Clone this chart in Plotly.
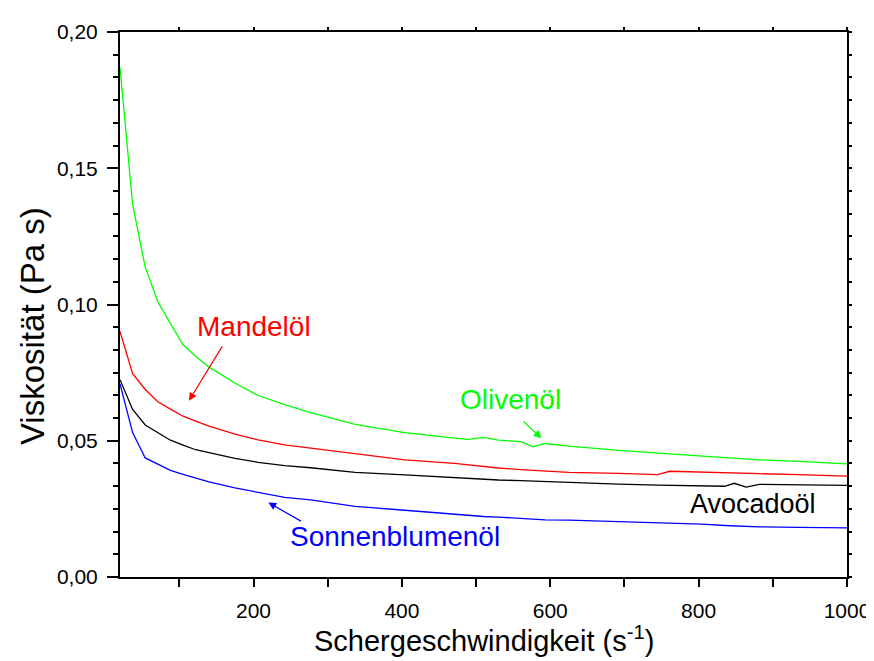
import plotly.graph_objects as go

# Shear rate (s^-1)
shear = [20, 37, 54, 71, 88, 105, 122, 140, 175, 206, 242, 277, 337, 404, 471, 490,
         510, 530, 560, 577, 593, 625, 692, 745, 761, 804, 835, 848, 864, 882, 935, 1000]

olivenoel = [0.1870, 0.1368, 0.1137, 0.1010, 0.0930, 0.0852, 0.0810, 0.0770, 0.0712, 0.0666,
             0.0633, 0.0603, 0.0560, 0.0530, 0.0510, 0.0505, 0.0512, 0.0502, 0.0497, 0.0478,
             0.0490, 0.0480, 0.0465, 0.0454, 0.0451, 0.0444, 0.0438, 0.0436, 0.0433, 0.0430,
             0.0424, 0.0415]

mandeloel = [0.0901, 0.0746, 0.0688, 0.0643, 0.0616, 0.0590, 0.0572, 0.0554, 0.0524, 0.0503,
             0.0485, 0.0473, 0.0451, 0.0430, 0.0417, 0.0411, 0.0405, 0.0400, 0.0394, 0.0391,
             0.0389, 0.0384, 0.0380, 0.0376, 0.0388, 0.0384, 0.0382, 0.0381, 0.0380, 0.0379,
             0.0376, 0.0370]

avocadooel = [0.0724, 0.0615, 0.0558, 0.0530, 0.0502, 0.0484, 0.0467, 0.0456, 0.0435, 0.0421,
              0.0409, 0.0401, 0.0384, 0.0375, 0.0364, 0.0361, 0.0358, 0.0356, 0.0354, 0.0352,
              0.0350, 0.0347, 0.0341, 0.0337, 0.0336, 0.0333, 0.0333, 0.0344, 0.0330, 0.0340,
              0.0338, 0.0336]

sonnenblumenoel = [0.0709, 0.0530, 0.0437, 0.0414, 0.0391, 0.0377, 0.0363, 0.0349, 0.0327, 0.0310,
                   0.0292, 0.0283, 0.0259, 0.0245, 0.0230, 0.0226, 0.0222, 0.0220, 0.0216, 0.0213,
                   0.0210, 0.0209, 0.0204, 0.0199, 0.0197, 0.0194, 0.0189, 0.0187, 0.0185, 0.0184,
                   0.0182, 0.0180]

x_ticks = [200, 400, 600, 800, 1000]
y_ticks = [0.00, 0.05, 0.10, 0.15, 0.20]

FONT = "Arial, 'Liberation Sans', sans-serif"

fig = go.Figure()
series = [("Olivenöl", olivenoel, "#00FF00"),
          ("Mandelöl", mandeloel, "#FF0000"),
          ("Avocadoöl", avocadooel, "#000000"),
          ("Sonnenblumenöl", sonnenblumenoel, "#0000FF")]
for name, ys, col in series:
    fig.add_trace(go.Scatter(x=shear, y=ys, mode="lines", name=name,
                             line=dict(color=col, width=1.3), showlegend=False))

# dummy trace for the mirrored top/right axes
fig.add_trace(go.Scatter(x=[shear[0]], y=[0], xaxis="x2", yaxis="y2", mode="markers",
                         marker=dict(opacity=0), showlegend=False, hoverinfo="skip"))

# curve labels
labels = [("Mandelöl", 200, 0.0920, "#FF0000", 28),
          ("Olivenöl", 547, 0.0650, "#00FF00", 28),
          ("Avocadoöl", 873, 0.0268, "#000000", 27),
          ("Sonnenblumenöl", 391, 0.0147, "#0000FF", 28)]
for txt, lx, ly, col, fs in labels:
    fig.add_annotation(x=lx, y=ly, text=txt, showarrow=False,
                       font=dict(family=FONT, size=fs, color=col))

# arrows (tail -> tip)
arrows = [(159, 0.0852, 113, 0.0647, "#FF0000"),
          (562, 0.0576, 588, 0.0509, "#00FF00"),
          (266, 0.0202, 220, 0.0273, "#0000FF")]
for tx, ty, hx, hy, col in arrows:
    fig.add_annotation(x=hx, y=hy, ax=tx, ay=ty, xref="x", yref="y", axref="x", ayref="y",
                       text="", showarrow=True, arrowhead=2, arrowsize=1.3,
                       arrowwidth=1.2, arrowcolor=col)

# axis titles
fig.add_annotation(xref="paper", yref="paper", x=0.5, y=-0.151, xanchor="center", yanchor="bottom",
                   text="Schergeschwindigkeit (s<sup>-1</sup>)", showarrow=False,
                   font=dict(family=FONT, size=29, color="black"))
fig.add_annotation(xref="paper", yref="paper", x=-0.12, y=0.46, xanchor="center", yanchor="middle",
                   text="Viskosität (Pa s)", textangle=-90, showarrow=False,
                   font=dict(family=FONT, size=33, color="black"))

fig.update_layout(
    width=874, height=661,
    margin=dict(l=112, r=27, t=22, b=92),
    paper_bgcolor="white", plot_bgcolor="white",
    separators=",.",
    font=dict(family=FONT, color="black"),
    xaxis=dict(range=[20, 1000], tickvals=x_ticks, ticktext=[str(v) for v in x_ticks],
               ticks="outside", ticklen=8, tickwidth=2, tickcolor="black",
               showline=True, linewidth=2, linecolor="black", showgrid=False, zeroline=False,
               tickfont=dict(size=21, family=FONT), ticklabelstandoff=6,
               minor=dict(tickvals=[100, 300, 500, 700, 900], ticks="outside", ticklen=8,
                          tickwidth=2, tickcolor="black", showgrid=False)),
    yaxis=dict(range=[0, 0.2], tickvals=y_ticks, tickformat=".2f",
               ticks="outside", ticklen=11, tickwidth=2, tickcolor="black",
               showline=True, linewidth=2, linecolor="black", showgrid=False, zeroline=False,
               tickfont=dict(size=21, family=FONT), ticklabelstandoff=5,
               minor=dict(tick0=0, dtick=0.05 / 6, ticks="outside", ticklen=5,
                          tickwidth=2, tickcolor="black", showgrid=False)),
    xaxis2=dict(range=[20, 1000], overlaying="x", side="top", anchor="y",
                tick0=0, dtick=100, ticks="outside", ticklen=3, tickwidth=2, tickcolor="black",
                showticklabels=False, showline=True, linewidth=2, linecolor="black",
                showgrid=False, zeroline=False),
    yaxis2=dict(range=[0, 0.2], overlaying="y", side="right", anchor="x",
                tick0=0, dtick=0.05 / 6, ticks="outside", ticklen=3, tickwidth=2, tickcolor="black",
                showticklabels=False, showline=True, linewidth=2, linecolor="black",
                showgrid=False, zeroline=False),
)

fig.write_html("out.html")
